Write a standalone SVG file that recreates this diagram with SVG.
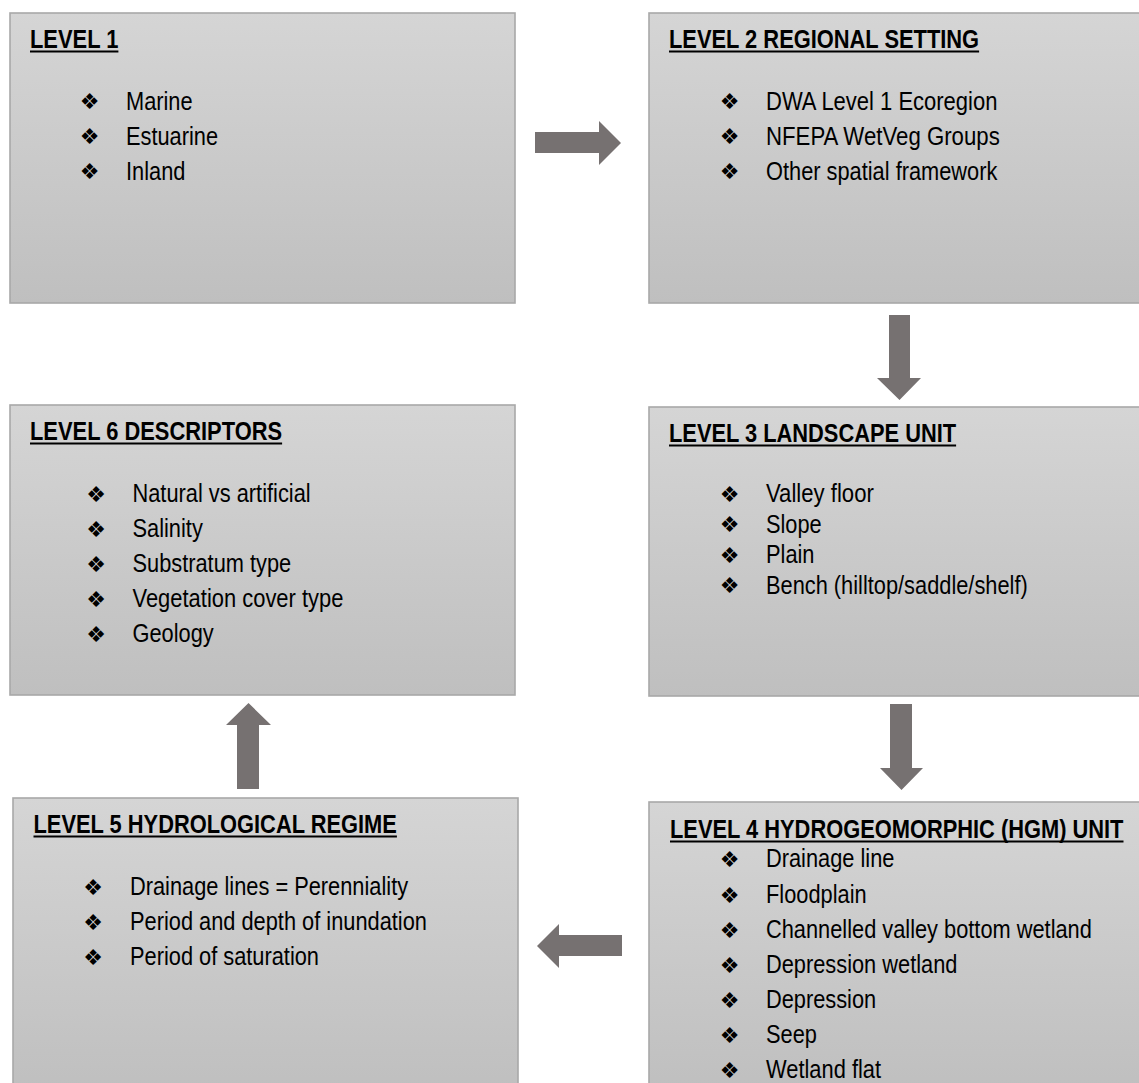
<svg xmlns="http://www.w3.org/2000/svg" width="1139" height="1083" viewBox="0 0 1139 1083">
<defs>
<linearGradient id="g" x1="0" y1="0" x2="0" y2="1">
<stop offset="0" stop-color="#d5d5d5"/>
<stop offset="1" stop-color="#bfbfbf"/>
</linearGradient>
<style>
.box{fill:url(#g);stroke:#a8a8a8;stroke-width:1.6}
.h{font-family:'Liberation Sans Narrow','Liberation Sans',Arial,sans-serif;font-weight:bold;font-size:26.5px;fill:#000}
.t{font-family:'Liberation Sans Narrow','Liberation Sans',Arial,sans-serif;font-size:26.5px;fill:#000}
.b{font-family:'DejaVu Sans',sans-serif;font-size:22px;fill:#000;text-anchor:middle}
.ul{fill:#000}
.arr{fill:#767171}
</style>
</defs>
<rect width="1139" height="1083" fill="#fff"/>

<g id="level1">
<rect class="box" x="10" y="13" width="505" height="290"/>
<text class="h" x="30" y="48" textLength="88.4" lengthAdjust="spacingAndGlyphs">LEVEL 1</text>
<rect class="ul" x="30" y="50.5" width="88.4" height="2"/>
<text class="b" x="89.5" y="109">❖</text><text class="t" x="126" y="110" textLength="66.6" lengthAdjust="spacingAndGlyphs">Marine</text>
<text class="b" x="89.5" y="144">❖</text><text class="t" x="126" y="145" textLength="92.1" lengthAdjust="spacingAndGlyphs">Estuarine</text>
<text class="b" x="89.5" y="179">❖</text><text class="t" x="126" y="180" textLength="59.4" lengthAdjust="spacingAndGlyphs">Inland</text>
</g>

<g id="level2">
<rect class="box" x="649" y="13" width="500" height="290"/>
<text class="h" x="669" y="48" textLength="310.1" lengthAdjust="spacingAndGlyphs">LEVEL 2 REGIONAL SETTING</text>
<rect class="ul" x="669" y="50.5" width="310.1" height="2"/>
<text class="b" x="729.5" y="109">❖</text><text class="t" x="766" y="110" textLength="231.4" lengthAdjust="spacingAndGlyphs">DWA Level 1 Ecoregion</text>
<text class="b" x="729.5" y="144">❖</text><text class="t" x="766" y="145" textLength="233.8" lengthAdjust="spacingAndGlyphs">NFEPA WetVeg Groups</text>
<text class="b" x="729.5" y="179">❖</text><text class="t" x="766" y="180" textLength="231.4" lengthAdjust="spacingAndGlyphs">Other spatial framework</text>
</g>

<g id="level3">
<rect class="box" x="649" y="407" width="500" height="289"/>
<text class="h" x="669" y="442" textLength="287.1" lengthAdjust="spacingAndGlyphs">LEVEL 3 LANDSCAPE UNIT</text>
<rect class="ul" x="669" y="444.5" width="287.1" height="2"/>
<text class="b" x="729.5" y="501.5">❖</text><text class="t" x="766" y="502" textLength="107.8" lengthAdjust="spacingAndGlyphs">Valley floor</text>
<text class="b" x="729.5" y="532">❖</text><text class="t" x="766" y="532.5" textLength="55.7" lengthAdjust="spacingAndGlyphs">Slope</text>
<text class="b" x="729.5" y="562.5">❖</text><text class="t" x="766" y="563" textLength="48.5" lengthAdjust="spacingAndGlyphs">Plain</text>
<text class="b" x="729.5" y="593">❖</text><text class="t" x="766" y="593.5" textLength="261.7" lengthAdjust="spacingAndGlyphs">Bench (hilltop/saddle/shelf)</text>
</g>

<g id="level4">
<rect class="box" x="649" y="802" width="500" height="290"/>
<text class="h" transform="translate(670,838) scale(0.82,1)" x="0" y="0" textLength="553" lengthAdjust="spacingAndGlyphs">LEVEL 4 HYDROGEOMORPHIC (HGM) UNIT</text>
<rect class="ul" x="670" y="840.5" width="453.5" height="2"/>
<text class="b" x="729.5" y="866.5">❖</text><text class="t" x="766" y="867" textLength="128.4" lengthAdjust="spacingAndGlyphs">Drainage line</text>
<text class="b" x="729.5" y="902.5">❖</text><text class="t" x="766" y="903" textLength="100.6" lengthAdjust="spacingAndGlyphs">Floodplain</text>
<text class="b" x="729.5" y="937.5">❖</text><text class="t" transform="translate(766,938) scale(0.82,1)" x="0" y="0" textLength="397.4" lengthAdjust="spacingAndGlyphs">Channelled valley bottom wetland</text>
<text class="b" x="729.5" y="972.5">❖</text><text class="t" x="766" y="973" textLength="191.4" lengthAdjust="spacingAndGlyphs">Depression wetland</text>
<text class="b" x="729.5" y="1007.5">❖</text><text class="t" x="766" y="1008" textLength="110.2" lengthAdjust="spacingAndGlyphs">Depression</text>
<text class="b" x="729.5" y="1042.5">❖</text><text class="t" x="766" y="1043" textLength="50.9" lengthAdjust="spacingAndGlyphs">Seep</text>
<text class="b" x="729.5" y="1077.5">❖</text><text class="t" x="766" y="1078" textLength="115.1" lengthAdjust="spacingAndGlyphs">Wetland flat</text>
</g>

<g id="level5">
<rect class="box" x="13" y="798" width="505" height="294"/>
<text class="h" x="33.5" y="833" textLength="363.4" lengthAdjust="spacingAndGlyphs">LEVEL 5 HYDROLOGICAL REGIME</text>
<rect class="ul" x="33.5" y="835.5" width="363.4" height="2"/>
<text class="b" x="93" y="894.5">❖</text><text class="t" x="130" y="895" textLength="278.1" lengthAdjust="spacingAndGlyphs">Drainage lines = Perenniality</text>
<text class="b" x="93" y="929.5">❖</text><text class="t" x="130" y="930" textLength="296.9" lengthAdjust="spacingAndGlyphs">Period and depth of inundation</text>
<text class="b" x="93" y="964.5">❖</text><text class="t" x="130" y="965" textLength="189" lengthAdjust="spacingAndGlyphs">Period of saturation</text>
</g>

<g id="level6">
<rect class="box" x="10" y="405" width="505" height="290"/>
<text class="h" x="30" y="440" textLength="252.1" lengthAdjust="spacingAndGlyphs">LEVEL 6 DESCRIPTORS</text>
<rect class="ul" x="30" y="442.5" width="252.1" height="2"/>
<text class="b" x="96" y="501.5">❖</text><text class="t" x="132.5" y="502" textLength="178.1" lengthAdjust="spacingAndGlyphs">Natural vs artificial</text>
<text class="b" x="96" y="536.5">❖</text><text class="t" x="132.5" y="537" textLength="70.3" lengthAdjust="spacingAndGlyphs">Salinity</text>
<text class="b" x="96" y="571.5">❖</text><text class="t" x="132.5" y="572" textLength="158.7" lengthAdjust="spacingAndGlyphs">Substratum type</text>
<text class="b" x="96" y="606.5">❖</text><text class="t" x="132.5" y="607" textLength="210.9" lengthAdjust="spacingAndGlyphs">Vegetation cover type</text>
<text class="b" x="96" y="641.5">❖</text><text class="t" x="132.5" y="642" textLength="81.2" lengthAdjust="spacingAndGlyphs">Geology</text>
</g>

<g id="connectors">
<polygon class="arr" points="535,132 599,132 599,121 621,143 599,165 599,153 535,153"/>
<polygon class="arr" points="889,315 910,315 910,378 921,378 899.5,400 877,378 889,378"/>
<polygon class="arr" points="890,704 912,704 912,768 923,768 901.5,790 880,768 890,768"/>
<polygon class="arr" points="622,935 622,956 559,956 559,968 537,946 559,924 559,935"/>
<polygon class="arr" points="237,789 259,789 259,725 271,725 248.5,703 226,725 237,725"/>
</g>
</svg>
